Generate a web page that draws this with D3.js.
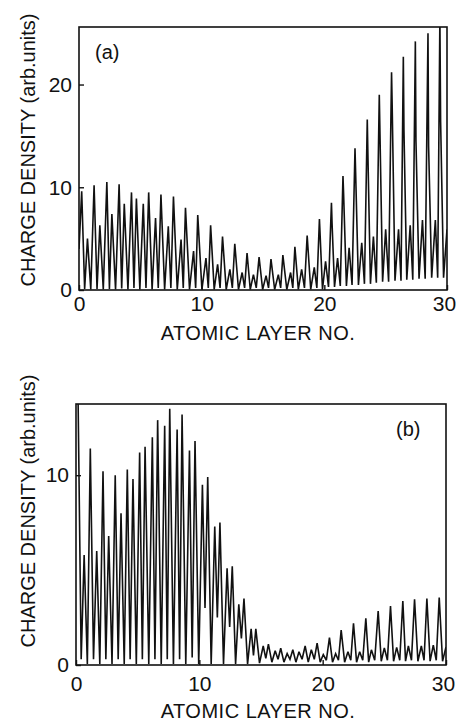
<!DOCTYPE html>
<html>
<head>
<meta charset="utf-8">
<script src="https://cdn.jsdelivr.net/npm/d3@7"></script>
<style>
  body { margin: 0; background: #fff; }
  svg text { font-family: "Liberation Sans", Arial, sans-serif; fill: #111; }
</style>
</head>
<body>
<div id="chart"></div>
<script>
// ---- data: layer position, charge density ----
// panel (a): two peaks per layer, tall spikes get a shoulder near the surface
const layerA = [
  0,
  0.22, 0.46, 0.69, 0.96,
  1.23, 1.47, 1.70, 1.98,
  2.27, 2.48, 2.68, 2.98,
  3.27, 3.48, 3.69, 3.99,
  4.28, 4.48, 4.68, 4.96,
  5.24, 5.46, 5.68, 5.96,
  6.24, 6.46, 6.68, 6.98,
  7.28, 7.49, 7.70, 8.01,
  8.32, 8.50, 8.68, 9.01,
  9.34, 9.51, 9.68, 10.02,
  10.35, 10.54, 10.73, 11.02,
  11.30, 11.50, 11.70, 12.00,
  12.30, 12.50, 12.70, 13.00,
  13.30, 13.50, 13.70, 13.96,
  14.22, 14.45, 14.68, 14.97,
  15.25, 15.45, 15.65, 15.95,
  16.25, 16.44, 16.62, 16.94,
  17.25, 17.43, 17.60, 17.88,
  18.15, 18.38, 18.60, 18.89,
  19.18, 19.39, 19.60, 19.85,
  20.10, 20.34, 20.58, 20.63, 20.83,
  21.08, 21.30, 21.52, 21.57, 21.80,
  22.02, 22.26, 22.50, 22.55, 22.78,
  23.05, 23.27, 23.50, 23.55, 23.76,
  24.00, 24.24, 24.48, 24.53, 24.75,
  25.00, 25.24, 25.48, 25.53, 25.76,
  26.05, 26.25, 26.44, 26.49, 26.72,
  27.00, 27.21, 27.42, 27.47, 27.72,
  28.00, 28.22, 28.45, 28.50, 28.75,
  29.05, 29.24, 29.42, 29.48, 29.72,
  30.0
];
const densityA = [
  4.0,
  9.6, 0.1, 5.0, 0.05,
  10.2, 0.1, 6.3, 0.05,
  10.5, 0.1, 7.4, 0.05,
  10.3, 0.15, 8.4, 0.05,
  9.5, 0.2, 8.9, 0.05,
  8.4, 0.2, 9.5, 0.05,
  7.0, 0.2, 9.3, 0.05,
  6.2, 0.2, 9.1, 0.05,
  4.9, 0.2, 8.0, 0.05,
  3.8, 0.2, 7.3, 0.05,
  3.1, 0.2, 6.3, 0.05,
  2.5, 0.2, 5.2, 0.05,
  2.0, 0.2, 4.5, 0.05,
  1.7, 0.2, 3.6, 0.05,
  1.5, 0.2, 3.2, 0.05,
  1.4, 0.2, 3.0, 0.05,
  1.5, 0.2, 3.4, 0.05,
  1.7, 0.2, 4.2, 0.05,
  2.0, 0.2, 5.3, 0.05,
  2.2, 0.2, 6.9, 0.05,
  2.8, 0.3, 8.5, 6.5, 0.3,
  3.1, 0.4, 11.1, 9.4, 0.4,
  4.1, 0.5, 13.8, 11.5, 0.5,
  4.6, 0.6, 16.6, 13.3, 0.6,
  5.2, 0.7, 19.0, 15.6, 0.8,
  5.9, 0.8, 21.2, 18.0, 0.9,
  5.9, 0.9, 22.7, 15.6, 1.0,
  6.3, 1.0, 24.2, 14.5, 1.1,
  6.8, 1.1, 25.0, 14.0, 1.2,
  6.8, 1.2, 26.5, 16.4, 1.2,
  5.9
];

// panel (b)
const layerB = [
  0,
  0.15, 0.42, 0.66, 0.92,
  1.16, 1.42, 1.68, 1.93,
  2.19, 2.42, 2.65, 2.92,
  3.18, 3.42, 3.65, 3.91,
  4.16, 4.39, 4.62, 4.89,
  5.16, 5.38, 5.60, 5.90,
  6.19, 6.40, 6.62, 6.91,
  7.19, 7.40, 7.60, 7.90,
  8.20, 8.40, 8.60, 8.90,
  9.20, 9.42, 9.65, 9.95,
  10.25, 10.46, 10.68, 10.96,
  11.25, 11.46, 11.67, 11.96,
  12.25, 12.46, 12.67, 12.94,
  13.20, 13.41, 13.62, 13.91,
  14.20, 14.39, 14.58, 14.88,
  15.18, 15.39, 15.60, 15.88,
  16.15, 16.38, 16.60, 16.86,
  17.12, 17.35, 17.58, 17.83,
  18.08, 18.33, 18.58, 18.83,
  19.08, 19.32, 19.55, 19.80,
  20.05, 20.30, 20.55, 20.80,
  21.05, 21.28, 21.50, 21.78,
  22.05, 22.28, 22.50, 22.75,
  23.00, 23.25, 23.50, 23.73,
  23.95, 24.22, 24.50, 24.75,
  25.00, 25.25, 25.50, 25.75,
  26.00, 26.25, 26.50, 26.72,
  26.95, 27.20, 27.45, 27.72,
  28.00, 28.22, 28.45, 28.71,
  28.97, 29.21, 29.45, 29.72,
  30.0
];
const densityB = [
  14.2,
  15.0, 0.3, 5.8, 0.05,
  11.4, 0.3, 6.0, 0.05,
  10.2, 0.3, 6.8, 0.05,
  10.0, 0.3, 8.0, 0.05,
  10.3, 0.3, 9.8, 0.05,
  11.2, 0.3, 11.5, 0.05,
  12.0, 0.3, 12.9, 0.05,
  12.6, 0.3, 13.5, 0.05,
  12.4, 0.3, 13.2, 0.05,
  11.3, 0.4, 11.8, 0.05,
  9.5, 3.0, 9.9, 0.05,
  7.3, 2.5, 7.5, 0.05,
  5.1, 2.0, 5.2, 0.05,
  3.2, 1.4, 3.5, 0.05,
  1.9, 0.5, 1.9, 0.1,
  1.0, 0.35, 1.1, 0.15,
  0.75, 0.3, 0.88, 0.15,
  0.6, 0.3, 0.8, 0.15,
  0.7, 0.3, 1.0, 0.15,
  0.8, 0.3, 1.15, 0.15,
  0.55, 0.25, 1.44, 0.15,
  0.6, 0.25, 1.84, 0.15,
  0.7, 0.25, 2.2, 0.15,
  0.7, 0.25, 2.46, 0.15,
  0.8, 0.25, 2.84, 0.2,
  0.9, 0.25, 3.1, 0.2,
  0.93, 0.25, 3.37, 0.2,
  1.0, 0.25, 3.46, 0.2,
  1.0, 0.25, 3.5, 0.2,
  1.05, 0.25, 3.56, 0.2,
  0.95
];

const xTicks = [0, 10, 20, 30];
const yTicksA = [0, 10, 20];
const yTicksB = [0, 10];
const xTitle = "ATOMIC LAYER NO.";
const yTitle = "CHARGE DENSITY (arb.units)";
const panelLabels = ["(a)", "(b)"];

// ---- layout ----
const svg = d3.select('#chart')
  .append('svg')
  .attr('width', 459)
  .attr('height', 725);

function drawPanel(cfg, idx) {
  const {layers, density, yMax, yTicks, box} = cfg;

  const xScale = d3.scaleLinear().domain([0, 30]).range([box.left, box.right]);
  const yScale = d3.scaleLinear().domain([0, yMax]).range([box.bottom, box.top]);

  const g = svg.append('g');

  const clipId = 'clip' + idx;
  g.append('clipPath').attr('id', clipId)
    .append('rect')
    .attr('x', box.left).attr('y', box.top)
    .attr('width', box.right - box.left)
    .attr('height', box.bottom - box.top);

  const points = layers.map((l, i) => [l, density[i]]);

  const line = d3.line()
    .x(d => xScale(d[0]))
    .y(d => yScale(d[1]));

  g.append('path')
    .datum(points)
    .attr('d', line)
    .attr('clip-path', `url(#${clipId})`)
    .attr('fill', 'none')
    .attr('stroke', '#111')
    .attr('stroke-width', 1.6)
    .attr('stroke-linejoin', 'miter')
    .attr('stroke-miterlimit', 3);

  // frame
  g.append('rect')
    .attr('x', box.left).attr('y', box.top)
    .attr('width', box.right - box.left)
    .attr('height', box.bottom - box.top)
    .attr('fill', 'none')
    .attr('stroke', '#111')
    .attr('stroke-width', 1.6);

  // axes with inward ticks
  const xAxis = d3.axisBottom(xScale)
    .tickValues(xTicks)
    .tickSizeInner(-5)
    .tickSizeOuter(0)
    .tickPadding(cfg.xPad)
    .tickFormat(d3.format('d'));
  const gx = g.append('g')
    .attr('transform', `translate(0, ${box.bottom})`)
    .call(xAxis);
  gx.select('.domain').remove();
  gx.selectAll('line').attr('stroke', '#111').attr('stroke-width', 1.4);
  gx.selectAll('text')
    .attr('font-size', 21)
    .attr('fill', '#111')
    .attr('x', d => d === 30 ? -3 : 0);

  const yAxis = d3.axisLeft(yScale)
    .tickValues(yTicks)
    .tickSizeInner(-5)
    .tickSizeOuter(0)
    .tickPadding(cfg.yPad)
    .tickFormat(d3.format('d'));
  const gy = g.append('g')
    .attr('transform', `translate(${box.left}, 0)`)
    .call(yAxis);
  gy.select('.domain').remove();
  gy.selectAll('line').attr('stroke', '#111').attr('stroke-width', 1.4);
  gy.selectAll('text').attr('font-size', 21).attr('fill', '#111');

  // titles
  g.append('text')
    .attr('x', 258)
    .attr('y', cfg.xTitleY)
    .attr('text-anchor', 'middle')
    .attr('font-size', 20)
    .attr('letter-spacing', 0.5)
    .text(xTitle);

  g.append('text')
    .attr('transform', `translate(35, ${cfg.yTitleY}) rotate(-90)`)
    .attr('text-anchor', 'middle')
    .attr('font-size', 20)
    .text(yTitle);

  g.append('text')
    .attr('x', cfg.labelX)
    .attr('y', cfg.labelY)
    .attr('font-size', 20)
    .text(panelLabels[idx]);
}

const panels = [
  {
    layers: layerA, density: densityA, yMax: 25.6, yTicks: yTicksA,
    box: {left: 79, right: 447, top: 27, bottom: 290},
    xPad: 6, yPad: 7, xTitleY: 340, yTitleY: 150, labelX: 95, labelY: 59
  },
  {
    layers: layerB, density: densityB, yMax: 13.75, yTicks: yTicksB,
    box: {left: 76, right: 446, top: 404, bottom: 665},
    xPad: 11, yPad: 7, xTitleY: 718, yTitleY: 511, labelX: 396, labelY: 436
  }
];

panels.forEach(drawPanel);
</script>
</body>
</html>
